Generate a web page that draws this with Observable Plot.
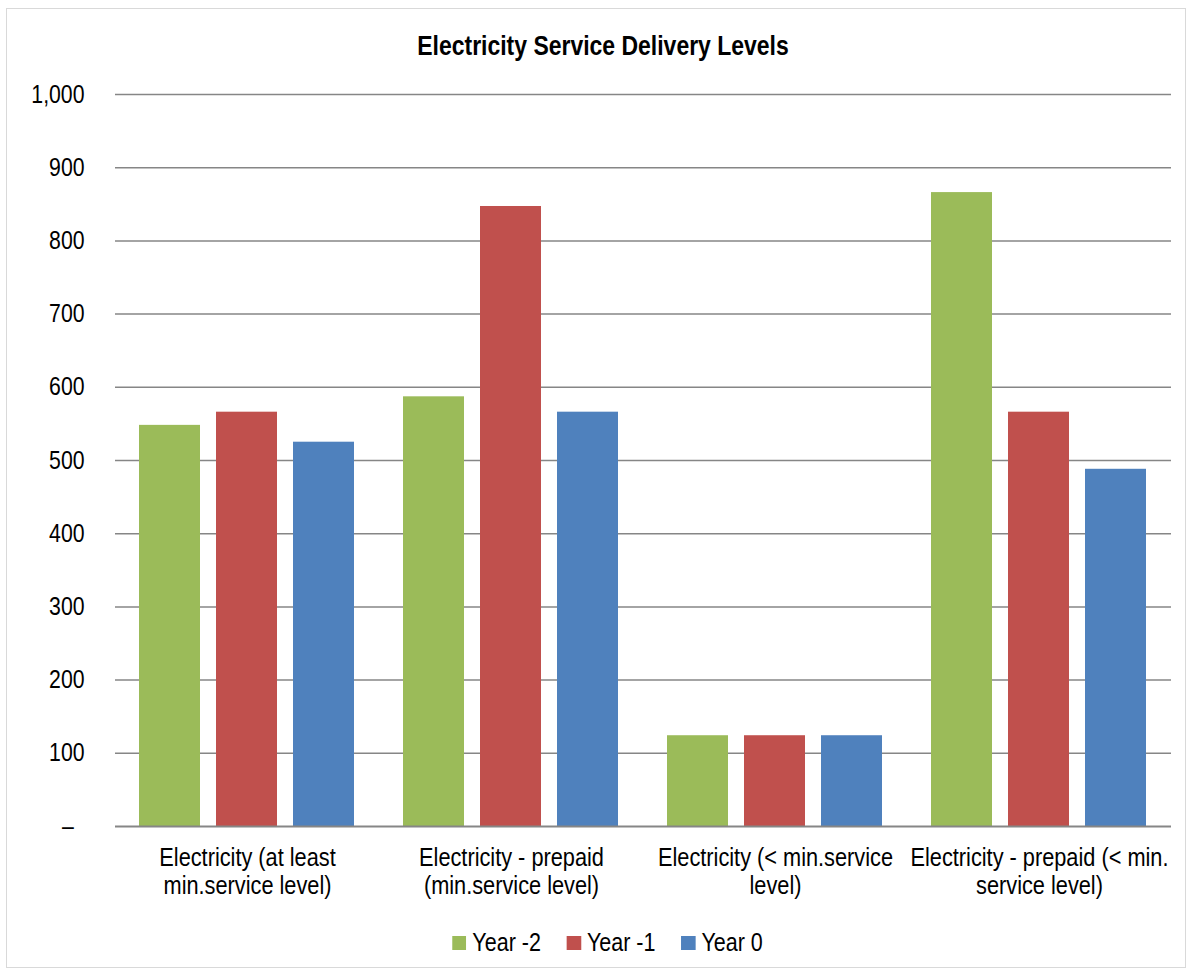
<!DOCTYPE html>
<html>
<head>
<meta charset="utf-8">
<script src="https://cdn.jsdelivr.net/npm/d3@7"></script>
<script src="https://cdn.jsdelivr.net/npm/@observablehq/plot@0.6"></script>
<style>
  html, body { margin: 0; padding: 0; background: #fff; }
  body { width: 1192px; height: 977px; position: relative; overflow: hidden;
         font-family: "Liberation Sans", Arial, sans-serif; }
  #frame { position: absolute; left: 6px; top: 8px; width: 1180px; height: 960px; border: 1px solid #d9d9d9; box-sizing: border-box; }
  #title { position: absolute; left: 0; width: 1206px; top: 30px; text-align: center; font-weight: bold; font-size: 28px; color: #000;
           transform: scaleX(0.82); transform-origin: 603px 50%; }
  #chart { position: absolute; left: 0; top: 0; }
  #legend { position: absolute; left: 0; width: 1215px; top: 928px; display: flex; justify-content: center; gap: 30px; font-size: 25px; color: #000;
            transform: scaleX(0.86); transform-origin: 607.5px 50%; }
  #legend .item { display: flex; align-items: center; gap: 7px; }
  #legend .sw { width: 16.5px; height: 14px; display: inline-block; }
</style>
</head>
<body>
<div id="frame"></div>
<div id="title">Electricity Service Delivery Levels</div>
<div id="chart"></div>
<div id="legend"></div>
<script>
const categories = [
  "Electricity (at least min.service level)",
  "Electricity - prepaid (min.service level)",
  "Electricity (< min.service level)",
  "Electricity - prepaid (< min. service level)"
];
const categoryLines = [
  "Electricity (at least\nmin.service level)",
  "Electricity - prepaid\n(min.service level)",
  "Electricity (< min.service\nlevel)",
  "Electricity - prepaid (< min.\nservice level)"
];
const series = ["Year -2", "Year -1", "Year 0"];
const colors = ["#9BBB59", "#C0504D", "#4F81BD"];
const yearMinus2 = [548, 587, 124, 866];
const yearMinus1 = [566, 847, 124, 566];
const year0 = [525, 566, 124, 488];
const yTicks = [0, 100, 200, 300, 400, 500, 600, 700, 800, 900, 1000];

const seriesValues = [yearMinus2, yearMinus1, year0];
const data = [];
categories.forEach((c, i) => {
  series.forEach((s, j) => data.push({category: c, series: s, value: seriesValues[j][i]}));
});

const FONT = '"Liberation Sans", Arial, sans-serif';

const chart = Plot.plot({
  width: 1192,
  height: 900,
  marginTop: 94,
  marginBottom: 74,
  marginLeft: 114,
  marginRight: 21,
  style: {fontFamily: FONT, fontSize: "25px", color: "#000", background: "transparent", overflow: "visible"},
  fx: {domain: categories, padding: 0, axis: null, label: null},
  x: {domain: series, paddingInner: 0.205, paddingOuter: 0.296, axis: null, label: null},
  y: {domain: [0, 1000], axis: null, label: null},
  color: {domain: series, range: colors},
  marks: [
    Plot.ruleY(yTicks.filter(d => d > 0), {stroke: "#868686", strokeWidth: 1.5, strokeOpacity: 1}),
    Plot.barY(data, {fx: "category", x: "series", y: "value", fill: "series"}),
    Plot.ruleY([0], {stroke: "#868686", strokeWidth: 2, strokeOpacity: 1}),
    Plot.axisY({ticks: yTicks, tickSize: 0, tickPadding: 31, fontSize: 25, label: null,
      tickFormat: d => d === 0 ? "–\u2002" : d3.format(",")(d)}),
    Plot.axisFx({anchor: "bottom", tickSize: 0, tickPadding: 19, fontSize: 25, lineHeight: 1.14,
      label: null, tickFormat: d => categoryLines[categories.indexOf(d)]})
  ]
});
document.getElementById("chart").appendChild(chart);

// condense axis text horizontally to match the narrow face of the original
chart.querySelectorAll('g[aria-label="y-axis tick label"] text').forEach(t => {
  t.setAttribute("transform", (t.getAttribute("transform") || "") + " scale(0.85,1)");
});
chart.querySelectorAll('g[aria-label="fx-axis tick label"] text').forEach(t => {
  t.setAttribute("transform", (t.getAttribute("transform") || "") + " scale(0.87,1)");
});

const legend = document.getElementById("legend");
series.forEach((s, i) => {
  const item = document.createElement("div");
  item.className = "item";
  const sw = document.createElement("span");
  sw.className = "sw";
  sw.style.background = colors[i];
  const t = document.createElement("span");
  t.textContent = s;
  item.appendChild(sw);
  item.appendChild(t);
  legend.appendChild(item);
});
</script>
</body>
</html>
